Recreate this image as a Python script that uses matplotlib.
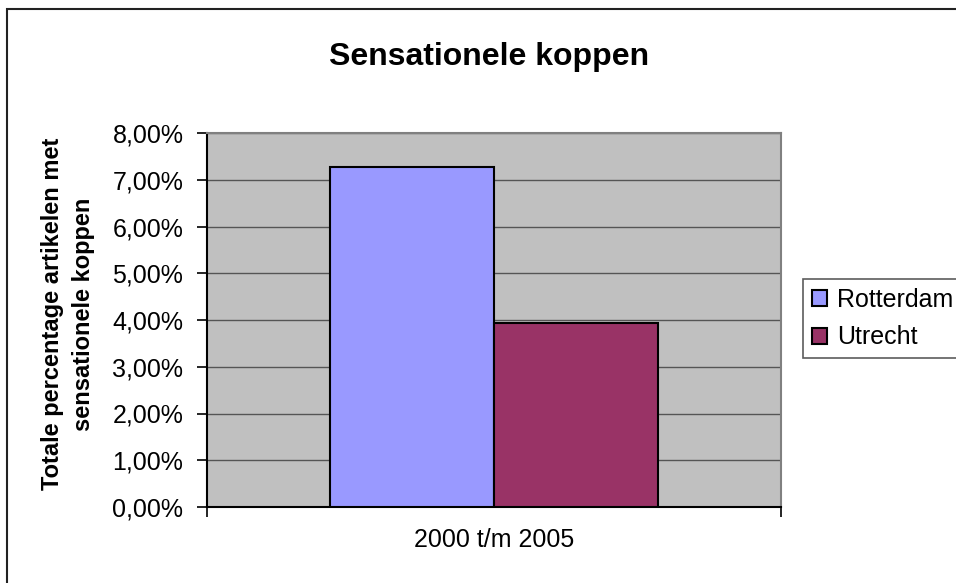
import matplotlib
matplotlib.use('Agg')
import matplotlib.pyplot as plt
import matplotlib.patches as mpatches
from matplotlib.ticker import FuncFormatter, FixedLocator

plt.rcParams['font.family'] = ['Liberation Sans', 'DejaVu Sans']

# data (percent of articles with sensational headlines)
category = '2000 t/m 2005'
series = ['Rotterdam', 'Utrecht']
values = [7.28, 3.93]
colors = ['#9999FF', '#993366']
yticks = [0, 1, 2, 3, 4, 5, 6, 7, 8]

W, H = 956, 583
fig = plt.figure(figsize=(W / 100, H / 100), dpi=100)
fig.patch.set_facecolor('white')

# plot area in pixel terms
L, R, T, B = 207, 781, 133, 507
ax = fig.add_axes([L / W, 1 - B / H, (R - L) / W, (B - T) / H])
ax.set_facecolor('#C0C0C0')

bw = 2 / 7
offsets = [-bw / 2, bw / 2]
bars = []
for name, v, c, off in zip(series, values, colors, offsets):
    b = ax.bar(off, v, width=bw, color=c, edgecolor='black', linewidth=1.5,
               label=name, zorder=3)
    bars.append(b)

ax.set_xlim(-0.5, 0.5)
ax.set_ylim(0, 8)
ax.set_yticks(yticks)
ax.yaxis.set_major_formatter(FuncFormatter(lambda v, p: f'{v:.2f}%'.replace('.', ',')))
ax.yaxis.grid(True, color='#555555', linewidth=1.0, zorder=1)
ax.set_axisbelow(True)

ax.set_xticks([0])
ax.set_xticklabels([category])
ax.xaxis.set_minor_locator(FixedLocator([-0.5, 0.5]))
ax.tick_params(axis='x', which='major', length=0, pad=15, labelsize=18)
ax.tick_params(axis='x', which='minor', length=7, width=1.2, color='black')
ax.tick_params(axis='y', length=7, width=1.2, color='black', pad=10, labelsize=18)

for s in ['top', 'right']:
    ax.spines[s].set_color('#808080')
    ax.spines[s].set_linewidth(1.5)
for s in ['left', 'bottom']:
    ax.spines[s].set_color('black')
    ax.spines[s].set_linewidth(1.5)

fig.text(489 / W, 1 - 65 / H, 'Sensationele koppen', ha='center', va='baseline',
         fontsize=23, fontweight='bold')

fig.text(68 / W, 1 - 314 / H, 'Totale percentage artikelen met\nsensationele koppen',
         rotation=90, ha='center', va='center', multialignment='center',
         fontsize=17, fontweight='bold', linespacing=1.4)

leg = fig.legend(handles=[b[0] for b in bars], labels=series,
                 loc='center left', bbox_to_anchor=(803 / W, 1 - 318.5 / H),
                 fontsize=18, frameon=True, fancybox=False, borderpad=0.35,
                 handlelength=0.6, handleheight=0.6, handletextpad=0.4,
                 labelspacing=0.55, borderaxespad=0)
leg.get_frame().set_edgecolor('#333333')
leg.get_frame().set_linewidth(1.2)

# outer chart border (runs past the right and bottom edges)
fig.patches.append(mpatches.Rectangle((7 / W, -0.05), 1.1, 1 - 9 / H + 0.05,
                                      transform=fig.transFigure, fill=False,
                                      edgecolor='#222222', linewidth=1.5))

fig.savefig('out.png', dpi=100)
